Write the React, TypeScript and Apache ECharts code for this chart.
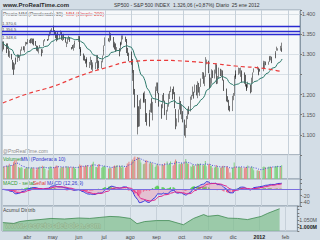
import React, { useEffect, useRef } from "react";
import * as echarts from "echarts";

const MESES = ["ene", "feb", "mar", "abr", "may", "jun", "jul", "ago", "sep", "oct", "nov", "dic"];

// [open, close, low, high]
const marDays = [3, 4, 7, 8, 9, 10, 11, 14, 15, 16, 17, 18, 21, 22, 23, 24, 25, 28, 29, 30, 31];
const marOHLC = [[1307,1330,1307,1332],[1330,1321,1312,1332],[1322,1310,1303,1327],[1311,1321,1306,1325],[1320,1320,1313,1327],[1315,1295,1294,1315],[1293,1304,1291,1309],[1301,1296,1287,1301],[1282,1281,1262,1286],[1279,1257,1249,1280],[1262,1273,1262,1277],[1281,1279,1275,1292],[1281,1298,1281,1300],[1298,1293,1291,1299],[1292,1297,1284,1298],[1300,1309,1297,1312],[1311,1313,1309,1319],[1315,1310,1310,1320],[1309,1319,1305,1320],[1321,1328,1321,1331],[1327,1326,1325,1330]];
const marVol = [3.0,3.2,3.4,3.3,3.1,3.8,3.4,3.5,4.2,4.6,3.9,4.8,3.0,2.8,2.7,3.0,2.8,2.5,2.6,2.9,2.8];

const abrDays = [1, 4, 5, 6, 7, 8, 11, 12, 13, 14, 15, 18, 19, 20, 21, 25, 26, 27, 28, 29];
const abrOHLC = [[1329,1332,1325,1338],[1333,1333,1328,1336],[1332,1332,1327,1339],[1335,1336,1328,1340],[1334,1333,1325,1339],[1336,1328,1322,1339],[1330,1324,1321,1333],[1321,1314,1309,1322],[1316,1314,1307,1321],[1311,1315,1302,1316],[1315,1320,1315,1323],[1313,1305,1295,1313],[1306,1312,1303,1312],[1320,1330,1320,1335],[1333,1338,1332,1338],[1338,1335,1333,1338],[1336,1347,1335,1350],[1348,1356,1345,1358],[1354,1360,1351,1361],[1360,1364,1358,1365]];
const abrVol = [3.0,2.6,2.8,2.9,2.8,2.6,2.4,2.9,2.8,2.9,3.1,3.3,2.8,3.1,2.5,2.2,2.9,3.1,3.1,2.6];

const mayDays = [2, 3, 4, 5, 6, 9, 10, 11, 12, 13, 16, 17, 18, 19, 20, 23, 24, 25, 26, 27, 31];
const mayOHLC = [[1365,1361,1358,1371],[1359,1357,1349,1360],[1356,1347,1340,1357],[1345,1336,1332,1351],[1341,1340,1335,1355],[1340,1346,1338,1350],[1348,1357,1348,1359],[1355,1342,1336,1355],[1341,1348,1333,1350],[1348,1338,1336,1351],[1334,1330,1329,1343],[1326,1328,1318,1331],[1328,1340,1326,1341],[1342,1344,1336,1346],[1342,1333,1331,1343],[1318,1317,1312,1318],[1317,1316,1314,1323],[1315,1320,1309,1325],[1320,1325,1316,1328],[1325,1331,1325,1334],[1331,1345,1331,1346]];
const mayVol = [2.9,3.0,3.3,3.4,3.2,2.7,2.9,3.0,3.0,2.9,3.1,3.2,2.9,2.8,3.0,3.0,2.8,3.0,2.9,2.5,3.2];

const junDays = [1, 2, 3, 6, 7, 8, 9, 10, 13, 14, 15, 16, 17, 20, 21, 22, 23, 24, 27, 28, 29, 30];
const junOHLC = [[1345,1315,1313,1345],[1314,1312,1305,1318],[1307,1300,1296,1313],[1300,1286,1285,1302],[1287,1285,1284,1297],[1284,1280,1277,1288],[1281,1289,1280,1293],[1288,1271,1268,1289],[1272,1272,1266,1281],[1273,1288,1273,1294],[1286,1266,1262,1286],[1266,1268,1258,1274],[1272,1272,1267,1280],[1271,1278,1263,1280],[1278,1296,1278,1298],[1295,1288,1287,1298],[1286,1283,1262,1287],[1283,1268,1265,1284],[1268,1280,1265,1284],[1280,1296,1280,1297],[1297,1307,1297,1310],[1308,1321,1308,1322]];
const junVol = [3.6,3.3,3.4,3.2,3.1,3.4,3.3,3.5,3.0,3.1,3.6,3.8,4.3,3.0,3.0,2.9,3.7,3.7,2.8,3.0,3.2,3.3];

const julDays = [1, 5, 6, 7, 8, 11, 12, 13, 14, 15, 18, 19, 20, 21, 22, 25, 26, 27, 28, 29];
const julOHLC = [[1321,1340,1321,1342],[1339,1337,1332,1340],[1335,1339,1330,1340],[1340,1353,1340,1356],[1352,1344,1334,1352],[1343,1319,1317,1343],[1319,1314,1312,1327],[1315,1317,1313,1331],[1318,1309,1306,1327],[1309,1316,1308,1318],[1315,1305,1295,1315],[1307,1327,1307,1328],[1328,1325,1322,1331],[1325,1343,1324,1347],[1343,1345,1337,1347],[1344,1337,1331,1344],[1337,1331,1329,1338],[1331,1304,1303,1331],[1304,1300,1296,1316],[1300,1292,1283,1304]];
const julVol = [3.0,2.6,2.7,2.9,2.7,3.2,3.4,3.1,3.3,3.5,3.3,3.2,2.8,3.4,3.0,2.8,3.2,3.9,3.8,4.3];

const agoDays = [1, 2, 3, 4, 5, 8, 9, 10, 11, 12, 15, 16, 17, 18, 19, 22, 23, 24, 25, 26, 29, 30, 31];
const agoOHLC = [[1292,1287,1274,1307],[1286,1254,1254,1288],[1254,1261,1234,1261],[1261,1200,1200,1261],[1200,1199,1168,1214],[1199,1119,1119,1199],[1121,1172,1101,1172],[1171,1121,1120,1171],[1121,1173,1121,1186],[1173,1179,1164,1190],[1179,1204,1179,1205],[1203,1192,1182,1203],[1192,1193,1180,1208],[1189,1140,1132,1189],[1140,1124,1123,1154],[1124,1123,1121,1154],[1124,1162,1121,1162],[1162,1177,1156,1178],[1177,1159,1155,1191],[1158,1177,1136,1182],[1179,1210,1179,1210],[1209,1213,1195,1220],[1213,1219,1209,1230]];
const agoVol = [4.4,4.9,4.7,5.4,5.6,5.5,5.4,5.3,4.8,4.1,3.7,3.8,3.9,4.7,4.6,3.9,4.2,4.1,4.0,3.6,3.0,3.4,3.8];

const sepDays = [1, 2, 6, 7, 8, 9, 12, 13, 14, 15, 16, 19, 20, 21, 22, 23, 26, 27, 28, 29, 30];
const sepOHLC = [[1219,1204,1203,1230],[1204,1174,1170,1204],[1174,1166,1140,1176],[1166,1199,1166,1199],[1197,1186,1183,1204],[1185,1154,1149,1185],[1153,1162,1137,1162],[1162,1172,1158,1176],[1173,1188,1170,1202],[1189,1209,1189,1209],[1209,1216,1206,1220],[1214,1204,1188,1214],[1204,1202,1201,1220],[1203,1167,1166,1206],[1164,1130,1114,1164],[1128,1136,1121,1141],[1136,1163,1131,1163],[1163,1175,1163,1195],[1175,1151,1151,1184],[1152,1160,1139,1175],[1159,1131,1131,1159]];
const sepVol = [3.6,3.2,3.7,3.5,3.5,4.0,4.4,3.5,3.7,3.9,4.4,3.3,3.5,4.4,4.9,4.5,3.7,3.8,3.7,4.0,3.8];

const octDays = [3, 4, 5, 6, 7, 10, 11, 12, 13, 14, 17, 18, 19, 20, 21, 24, 25, 26, 27, 28, 31];
const octOHLC = [[1131,1099,1098,1138],[1097,1124,1093,1125],[1124,1144,1117,1147],[1144,1164,1139,1165],[1165,1155,1151,1171],[1158,1195,1158,1195],[1194,1196,1187,1199],[1196,1207,1196,1220],[1206,1204,1190,1207],[1205,1225,1205,1225],[1224,1201,1198,1224],[1200,1226,1191,1233],[1223,1210,1205,1229],[1209,1216,1197,1219],[1219,1239,1219,1240],[1239,1254,1239,1256],[1253,1229,1227,1255],[1230,1242,1221,1247],[1244,1285,1244,1293],[1284,1285,1275,1287],[1284,1253,1253,1284]];
const octVol = [4.4,5.0,4.2,3.9,3.8,3.2,3.0,3.6,3.3,3.4,3.6,3.9,3.7,3.7,3.9,3.5,3.4,3.6,4.5,3.2,3.6];

const novDays = [1, 2, 3, 4, 7, 8, 9, 10, 11, 14, 15, 16, 17, 18, 21, 22, 23, 25, 28, 29, 30];
const novOHLC = [[1251,1219,1215,1251],[1219,1237,1219,1242],[1238,1262,1227,1263],[1260,1253,1241,1260],[1254,1262,1240,1262],[1262,1276,1252,1277],[1275,1229,1226,1275],[1229,1239,1227,1246],[1240,1264,1240,1267],[1263,1251,1246,1264],[1251,1258,1244,1262],[1257,1237,1235,1260],[1236,1216,1209,1237],[1216,1216,1212,1224],[1215,1193,1183,1215],[1193,1188,1181,1196],[1187,1162,1161,1187],[1162,1159,1158,1172],[1159,1193,1159,1197],[1193,1196,1186,1204],[1197,1247,1197,1247]];
const novVol = [3.8,3.3,3.3,2.8,2.9,3.0,3.5,3.1,2.8,2.8,2.9,3.2,3.3,3.1,3.1,3.1,2.7,1.6,2.8,2.8,4.1];

const dicDays = [1, 2, 5, 6, 7, 8, 9, 12, 13, 14, 15, 16, 19, 20, 21, 22, 23, 27, 28, 29, 30];
const dicOHLC = [[1246,1244,1239,1251],[1246,1245,1244,1260],[1249,1258,1249,1267],[1258,1259,1252,1266],[1258,1262,1244,1267],[1260,1235,1231,1260],[1235,1255,1235,1258],[1255,1236,1227,1255],[1237,1225,1220,1249],[1225,1212,1209,1225],[1216,1215,1213,1226],[1217,1220,1217,1232],[1220,1206,1203,1224],[1206,1241,1206,1242],[1241,1243,1229,1245],[1243,1255,1243,1255],[1255,1265,1255,1265],[1265,1266,1262,1270],[1266,1250,1248,1266],[1250,1263,1250,1263],[1263,1258,1257,1264]];
const dicVol = [3.1,3.0,3.0,3.0,3.0,3.0,2.8,2.7,2.9,3.0,3.0,3.4,2.8,3.0,3.1,2.6,2.2,2.1,2.2,2.0,2.0];

const eneDays = [3, 4, 5, 6, 9, 10, 11, 12, 13, 17, 18, 19, 20, 23, 24, 25];
const eneOHLC = [[1258,1277,1258,1284],[1277,1277,1266,1279],[1277,1281,1265,1283],[1281,1278,1273,1282],[1278,1281,1274,1282],[1281,1292,1281,1296],[1292,1292,1285,1294],[1292,1296,1285,1296],[1294,1289,1278,1294],[1290,1293,1290,1304],[1294,1308,1291,1308],[1309,1315,1309,1319],[1314,1315,1309,1315],[1315,1316,1309,1321],[1316,1315,1307,1315],[1315,1326.06,1306,1329]];
const eneVol = [3.0,3.1,3.0,2.9,3.0,3.1,3.0,3.0,3.0,3.1,3.1,3.2,3.3,3.1,3.0,3.411];

const MONTHS: [number, number, number[], number[][], number[]][] = [
  [2011, 2, marDays, marOHLC, marVol],
  [2011, 3, abrDays, abrOHLC, abrVol],
  [2011, 4, mayDays, mayOHLC, mayVol],
  [2011, 5, junDays, junOHLC, junVol],
  [2011, 6, julDays, julOHLC, julVol],
  [2011, 7, agoDays, agoOHLC, agoVol],
  [2011, 8, sepDays, sepOHLC, sepVol],
  [2011, 9, octDays, octOHLC, octVol],
  [2011, 10, novDays, novOHLC, novVol],
  [2011, 11, dicDays, dicOHLC, dicVol],
  [2012, 0, eneDays, eneOHLC, eneVol],
];

// horizontal levels
const levelValues = [1370.6, 1356.5, 1348.6];
const levelLabels = ["1.370,6", "1.356,5", "1.348,6"];

// MM simple 200 (read)
const smaDates = ["2011-03-03","2011-04-01","2011-05-02","2011-06-01","2011-07-01","2011-08-01","2011-09-01","2011-10-03","2011-11-01","2011-12-01","2012-01-03","2012-01-25"];
const smaValues = [1179, 1202, 1221, 1246, 1266, 1282, 1285, 1283, 1278, 1271, 1265, 1257];

// Acumul Distrib (read, in M)
const adDates = ["2011-03-03","2011-03-16","2011-03-23","2011-04-01","2011-04-16","2011-04-29","2011-05-15","2011-06-01","2011-06-14","2011-06-26","2011-07-08","2011-07-19","2011-08-01","2011-08-09","2011-08-18","2011-09-01","2011-09-16","2011-10-03","2011-10-15","2011-10-27","2011-11-01","2011-11-13","2011-11-25","2011-12-06","2011-12-18","2012-01-03","2012-01-11","2012-01-25"];
const adValues = [1034, 1028, 1041, 1048, 1055, 1063, 1059, 1066, 1063, 1070, 1077, 1074, 1063, 1026, 1041, 1048, 1048, 1019, 1063, 1090, 1078, 1085, 1065, 1063, 1055, 1077, 1099, 1131];

const pd = (s: string) => { const [y, m, d] = s.split("-").map(Number); return new Date(y, m - 1, d).getTime(); };

function fmtEs(v: number, dec: number) {
  const s = Math.abs(v).toFixed(dec);
  const [i, f] = s.split(".");
  const w = i.replace(/\B(?=(\d{3})+(?!\d))/g, ".");
  return (v < 0 ? "-" : "") + w + (f ? "," + f : "");
}

function wma(arr: number[], n: number) {
  return arr.map((_, i) => {
    let s = 0, w = 0;
    for (let k = 0; k < n && i - k >= 0; k++) { const wt = n - k; s += arr[i - k] * wt; w += wt; }
    return s / w;
  });
}
function ema(arr: number[], n: number) {
  const a = 2 / (n + 1); let e = arr[0];
  return arr.map((v) => (e = e + a * (v - e)));
}

export default function App() {
  const ref = useRef<HTMLDivElement>(null);
  useEffect(() => {
    if (!ref.current) return;
    const chart = echarts.init(ref.current, undefined, { renderer: "svg" });

    const times: number[] = [];
    const ohlc: number[][] = [];
    const vols: number[] = [];
    MONTHS.forEach(([y, m, days, o, v]) => {
      days.forEach((d, i) => { times.push(new Date(y, m, d).getTime()); ohlc.push(o[i]); vols.push(v[i]); });
    });
    const closes = ohlc.map((c) => c[1]);
    const wma30 = wma(closes, 30);
    const e12 = ema(closes, 12), e26 = ema(closes, 26);
    const macd = e12.map((v, i) => v - e26[i]);
    const sig = ema(macd, 9);
    const hist = macd.map((v, i) => v - sig[i]);
    const volMA = wma(vols, 10);
    const n = times.length;
    const lastClose = closes[n - 1];

    const tMin = new Date(2011, 2, 2).getTime();
    const tMax = new Date(2012, 1, 15).getTime();
    const gridBase = { left: 2, right: 20, show: true, borderColor: "#94a3b0", borderWidth: 1 };
    const grids = [
      { ...gridBase, top: 10, height: 145, backgroundColor: "#f6f8fa" },
      { ...gridBase, top: 155, height: 24, backgroundColor: "#dfe7ee" },
      { ...gridBase, top: 179, height: 27, backgroundColor: "#dfe7ee" },
      { ...gridBase, top: 206, height: 25, backgroundColor: "#dfe7ee" },
    ];
    const fs = 5.3;
    const bfs = 4.6;
    const xAxes = grids.map((_, i) => ({
      type: "time", gridIndex: i, min: tMin, max: tMax, splitNumber: 11,
      axisLine: { show: false }, axisTick: { show: false },
      splitLine: { show: true, lineStyle: { color: "#c6d0d9", width: 1 } },
      axisLabel: {
        show: i === 3, fontSize: fs, color: "#444", margin: 3, hideOverlap: false,
        formatter: (val: number) => {
          const d = new Date(val);
          if (d.getDate() !== 1) return "";
          if (d.getMonth() === 0) return "{b|" + d.getFullYear() + "}";
          return MESES[d.getMonth()];
        },
        rich: { b: { fontWeight: "bold", fontSize: fs, color: "#222" } },
      },
    }));
    const yBase = {
      position: "right", axisLine: { show: true, lineStyle: { color: "#8797a5" } },
      axisTick: { show: true, length: 2, lineStyle: { color: "#777" } },
      axisLabel: { fontSize: fs, color: "#555", margin: 2 },
    };
    const yAxes = [
      { ...yBase, gridIndex: 0, min: 1050, max: 1410, interval: 50,
        splitLine: { show: true, lineStyle: { color: "#d9e0e6" } },
        axisLabel: { ...yBase.axisLabel, formatter: (v: number) => (v % 50 === 0 && v > 1050 && v !== 1250 ? fmtEs(v, 0) : "") } },
      { ...yBase, gridIndex: 1, min: 0, max: 6, splitLine: { show: false }, axisTick: { show: false }, axisLabel: { show: false } },
      { ...yBase, gridIndex: 2, min: -53, max: 33, splitLine: { show: false },
        axisLabel: { ...yBase.axisLabel, formatter: (v: number) => (v === -20 || v === -40 ? String(v) : "") } },
      { ...yBase, gridIndex: 3, min: 975, max: 1150, interval: 25, splitLine: { show: false },
        axisLabel: { ...yBase.axisLabel, formatter: (v: number) => (v === 1000 ? "{b|1.000M}" : v === 1050 ? "1.050M" : ""),
          rich: { b: { fontWeight: "bold", fontSize: fs, color: "#222" } } } },
    ];

    const boxLabel = (text: string, bg: string, color: string, border?: string) => ({
      show: true, position: "end", distance: 0.5, formatter: text, fontSize: bfs, color,
      backgroundColor: bg, borderColor: border || bg, borderWidth: border ? 0.6 : 0, padding: [0.5, 0.5, 0, 0.5],
    });
    const valueMark = (v: number, label: any) => ({
      silent: true, symbol: "none", animation: false,
      data: [{ yAxis: v, lineStyle: { opacity: 0 }, label }],
    });

    const series: any[] = [
      {
        type: "candlestick", xAxisIndex: 0, yAxisIndex: 0, barWidth: 1,
        data: times.map((t, i) => [t, ...ohlc[i]]),
        itemStyle: { color: "#e6e6e6", color0: "#1c1c1c", borderColor: "#555", borderColor0: "#1c1c1c", borderWidth: 0.7 },
        markLine: {
          silent: true, symbol: "none", animation: false,
          data: [
            ...levelValues.map((v, i) => ({
              yAxis: v, lineStyle: { color: "#2a2ad0", width: 1.3, type: "solid" },
              label: { show: true, position: i === 2 ? "insideStartBottom" : "insideStartTop", distance: 0.3,
                formatter: levelLabels[i], fontSize: 4.2, color: "#555" },
            })),
            { yAxis: lastClose, lineStyle: { opacity: 0 }, label: boxLabel(fmtEs(lastClose, 2), "#f8f000", "#000") },
          ],
        },
      },
      {
        type: "line", xAxisIndex: 0, yAxisIndex: 0, showSymbol: false, symbol: "none",
        data: times.map((t, i) => [t, wma30[i]]),
        lineStyle: { color: "#2d7b6c", width: 1 },
        markLine: valueMark(wma30[n - 1], boxLabel(fmtEs(wma30[n - 1], 1), "#eef2f5", "#2d5b55", "#9aa")),
      },
      {
        type: "line", xAxisIndex: 0, yAxisIndex: 0, showSymbol: false, symbol: "none", smooth: true,
        data: smaDates.map((d, i) => [pd(d), smaValues[i]]),
        lineStyle: { color: "#ea3a3a", width: 1.2, type: [4, 3] },
        markLine: valueMark(smaValues[smaValues.length - 1], boxLabel(fmtEs(smaValues[smaValues.length - 1], 1), "#f7eeee", "#e03030", "#d99")),
      },
      {
        type: "bar", xAxisIndex: 1, yAxisIndex: 1, barWidth: 1,
        data: times.map((t, i) => ({
          value: [t, vols[i]],
          itemStyle: { color: ohlc[i][1] >= ohlc[i][0] ? "#7fd17f" : "#e88484" },
        })),
        markLine: valueMark(vols[n - 1], boxLabel(fmtEs(vols[n - 1], 3) + "M", "#f8f000", "#000")),
      },
      {
        type: "line", xAxisIndex: 1, yAxisIndex: 1, showSymbol: false, symbol: "none",
        data: times.map((t, i) => [t, volMA[i]]),
        lineStyle: { color: "#4646d8", width: 1, type: [1, 1.5] },
      },
      {
        type: "bar", xAxisIndex: 2, yAxisIndex: 2, barWidth: 1,
        data: times.map((t, i) => ({ value: [t, hist[i]], itemStyle: { color: hist[i] >= 0 ? "#49c949" : "#f05a8a" } })),
        markLine: {
          silent: true, symbol: "none", animation: false,
          data: [
            { yAxis: 0, lineStyle: { color: "#7b6fe0", width: 1, type: "solid" }, label: { show: false } },
            { yAxis: macd[n - 1], lineStyle: { opacity: 0 }, label: boxLabel(fmtEs(macd[n - 1], 3), "#f7f7f7", "#e03030", "#d99") },
            { yAxis: hist[n - 1] - 2, lineStyle: { opacity: 0 }, label: boxLabel(fmtEs(hist[n - 1], 1), "#f0f8f0", "#30a030", "#9c9") },
          ],
        },
      },
      {
        type: "line", xAxisIndex: 2, yAxisIndex: 2, showSymbol: false, symbol: "none",
        data: times.map((t, i) => [t, macd[i]]),
        lineStyle: { color: "#3838e0", width: 1 },
        areaStyle: { origin: 0, color: "rgba(240,110,150,0.45)" },
      },
      {
        type: "line", xAxisIndex: 2, yAxisIndex: 2, showSymbol: false, symbol: "none",
        data: times.map((t, i) => [t, sig[i]]),
        lineStyle: { color: "#e0208a", width: 1 },
      },
      {
        type: "line", xAxisIndex: 3, yAxisIndex: 3, showSymbol: false, symbol: "none",
        data: adDates.map((d, i) => [pd(d), adValues[i]]),
        lineStyle: { color: "#3f8a52", width: 0.8 },
        areaStyle: { origin: "start", color: "#7dbd8b" },
        markLine: valueMark(adValues[adValues.length - 1], boxLabel(fmtEs(adValues[adValues.length - 1], 0) + "M", "#eef2f5", "#222", "#889")),
      },
    ];

    const txt = (text: string, x: number, y: number, fill: string, size = 5.2, weight = "normal") => ({
      type: "text", x, y, silent: true,
      style: { text, fill, fontSize: size, fontWeight: weight, fontFamily: "Liberation Sans", verticalAlign: "top" },
    });
    const graphic = [
      txt("www.ProRealTime.com", 3, 1.5, "#2a2a2a", 6, "bold"),
      txt("SP500 - S&P 500 INDEX", 114, 2, "#333", 5),
      txt("1.326,06 (+0,87%)", 173, 2, "#333", 5),
      txt("Diario  25 ene 2012", 216, 2, "#333", 5),
      txt("Precio MM (Ponderada 30)", 3, 11.5, "#666", 5),
      txt("MM (Simple 200)", 66, 11.5, "#e04848", 5),
      txt("@ProRealTime.com", 3, 148, "#8a8a8a", 5),
      txt("Volumen", 3, 156.5, "#2f9a2f", 5),
      txt("MM (Ponderada 10)", 21, 156.5, "#3535cc", 5),
      txt("MACD - señal", 3, 180.5, "#2f9a2f", 5),
      txt("Señal", 33, 180.5, "#e03030", 5),
      txt("MACD (12,26,9)", 47, 180.5, "#3535cc", 5),
      txt("Acumul Distrib", 3, 207.5, "#444", 5),
      {
        type: "text", x: 5, y: 221, silent: true,
        style: { text: "www.secretosdebolsa.com", fill: "#f6eaea", stroke: "#b97a7a", lineWidth: 0.8,
          fontSize: 7.5, fontWeight: "bold", fontFamily: "Liberation Sans", verticalAlign: "top" },
      },
    ];

    chart.setOption({
      animation: false,
      backgroundColor: "#d3dde6",
      textStyle: { fontFamily: "Liberation Sans" },
      grid: grids, xAxis: xAxes, yAxis: yAxes, series, graphic,
    } as any);
    return () => chart.dispose();
  }, []);
  return <div ref={ref} style={{ position: "fixed", left: 0, top: 0, width: 320, height: 240 }} />;
}
